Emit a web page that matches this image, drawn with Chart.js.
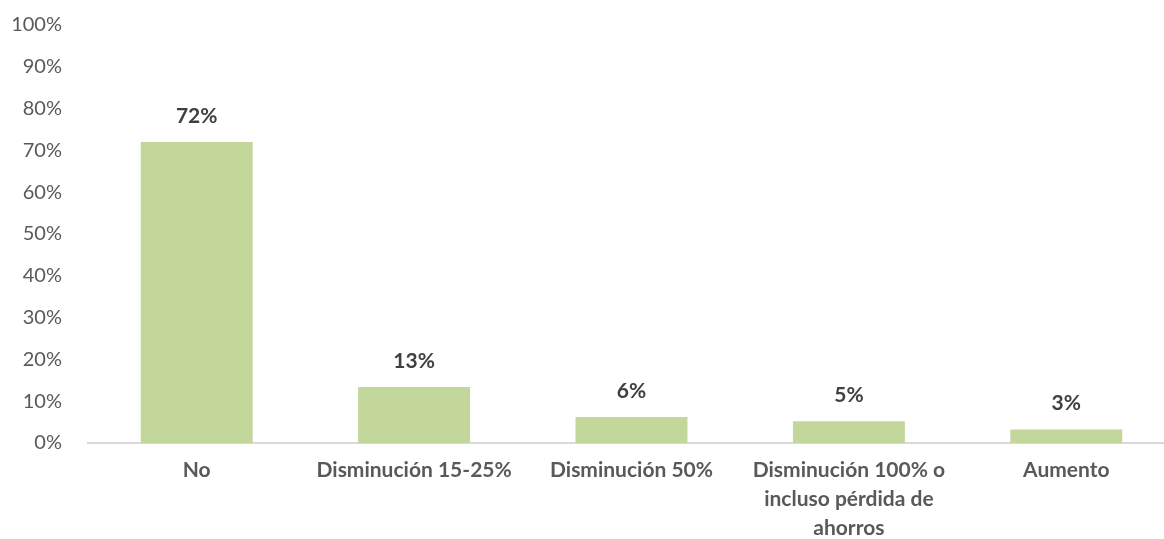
<!DOCTYPE html>
<html>
<head>
<meta charset="utf-8">
<script src="https://cdn.jsdelivr.net/npm/chart.js@4/dist/chart.umd.min.js"></script>
<style>
  html, body { margin: 0; padding: 0; background: #fff; overflow: hidden; }
  #wrap { width: 1175px; height: 539px; }
</style>
</head>
<body>
<div id="wrap"><canvas id="grafico"></canvas></div>
<script>
const categorias = ['No', 'Disminución 15-25%', 'Disminución 50%', ['Disminución 100% o', 'incluso pérdida de', 'ahorros'], 'Aumento'];
const porcentajes = [72, 13.4, 6.2, 5.2, 3.2];
const ticksY = [0, 10, 20, 30, 40, 50, 60, 70, 80, 90, 100];

const fuente = "Lato, 'Open Sans', sans-serif";

// etiquetas encima de cada barra
const etiquetasBarras = {
    id: 'etiquetasBarras',
    afterDatasetsDraw(chart) {
        const ctx = chart.ctx;
        const meta = chart.getDatasetMeta(0);
        ctx.save();
        ctx.font = 'bold 21px ' + fuente;
        ctx.fillStyle = '#404040';
        ctx.textAlign = 'center';
        ctx.textBaseline = 'middle';
        meta.data.forEach((bar, i) => {
            ctx.fillText(Math.round(porcentajes[i]) + '%', bar.x, bar.y - 26);
        });
        ctx.restore();
    }
};

new Chart(document.getElementById('grafico'), {
    type: 'bar',
    data: {
        labels: categorias,
        datasets: [{
            data: porcentajes,
            backgroundColor: '#C4D79B',
            borderWidth: 0,
            barPercentage: 0.515,
            categoryPercentage: 1
        }]
    },
    options: {
        responsive: true,
        maintainAspectRatio: false,
        animation: false,
        layout: { padding: 0 },
        plugins: {
            legend: { display: false },
            tooltip: { enabled: false }
        },
        scales: {
            x: {
                grid: { display: false, drawTicks: false },
                border: { display: true, color: '#D9D9D9', width: 2 },
                ticks: {
                    color: '#595959',
                    font: { family: fuente, size: 21, weight: 'bold', lineHeight: 1.38 },
                    padding: 13,
                    maxRotation: 0,
                    autoSkip: false
                },
                afterFit(scale) { scale.height = 96; }
            },
            y: {
                min: 0,
                max: 100,
                afterBuildTicks(scale) { scale.ticks = ticksY.map(v => ({ value: v })); },
                grid: { display: false, drawTicks: false },
                border: { display: false },
                ticks: {
                    color: '#595959',
                    font: { family: fuente, size: 20 },
                    padding: 26,
                    callback: v => v + '%'
                },
                afterFit(scale) {
                    scale.width = 88;
                    scale.paddingTop = 25;
                    scale.paddingBottom = 0;
                }
            }
        }
    },
    plugins: [etiquetasBarras]
});
</script>
</body>
</html>
